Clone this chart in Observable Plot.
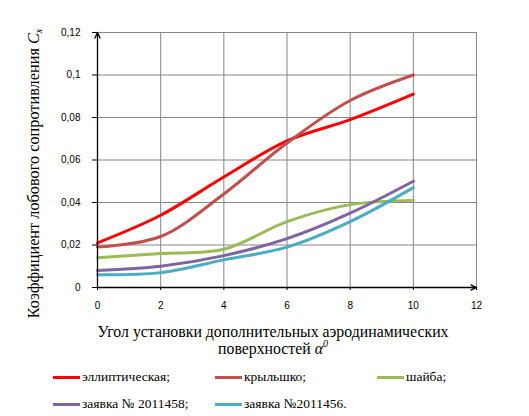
<!DOCTYPE html>
<html><head><meta charset="utf-8">
<script src="https://cdn.jsdelivr.net/npm/d3@7"></script>
<script src="https://cdn.jsdelivr.net/npm/@observablehq/plot@0.6"></script>
<style>
body{margin:0;background:#fff;}
#legend{position:relative;height:54px;font-family:"Liberation Serif",serif;font-size:13.5px;color:#000;}
.li{position:absolute;display:flex;align-items:center;}
.sw{width:27px;height:3px;margin-right:2px;}
</style></head>
<body>
<div id="chart"></div>
<div id="legend"></div>
<script>
const angles = [0, 2, 4, 6, 8, 10];
const seriesNames = ["эллиптическая;", "крыльшко;", "шайба;", "заявка № 2011458;", "заявка №2011456."];
const elliptic = [0.021, 0.034, 0.052, 0.069, 0.079, 0.091];
const wing     = [0.019, 0.024, 0.044, 0.068, 0.088, 0.100];
const washer   = [0.014, 0.016, 0.018, 0.031, 0.039, 0.041];
const app458   = [0.008, 0.010, 0.015, 0.023, 0.035, 0.050];
const app456   = [0.006, 0.007, 0.013, 0.019, 0.031, 0.047];
const colors = ["#FF0000", "#C0504D", "#9BBB59", "#8064A2", "#4BACC6"];
const xTicks = [0, 2, 4, 6, 8, 10, 12];
const yTicks = [0, 0.02, 0.04, 0.06, 0.08, 0.1, 0.12];

const allSeries = [elliptic, wing, washer, app458, app456];
const data = [];
allSeries.forEach((vals, i) => vals.forEach((v, j) => data.push({s: seriesNames[i], x: angles[j], y: v})));

const fmt = d => d === 0 ? "0" : String(+d.toFixed(2)).replace(".", ",");

const plot = Plot.plot({
  width: 529, height: 362,
  marginLeft: 97, marginRight: 53, marginTop: 32, marginBottom: 75,
  style: {fontFamily: "Liberation Sans, sans-serif", fontSize: "10px", color: "#000", background: "#fff"},
  x: {domain: [0, 12], label: null},
  y: {domain: [0, 0.12], label: null},
  color: {domain: seriesNames, range: colors},
  marks: [
    Plot.gridX(xTicks.filter(d => d > 0), {stroke: "#868686", strokeOpacity: 1, strokeWidth: 1}),
    Plot.gridY(yTicks.filter(d => d > 0), {stroke: "#868686", strokeOpacity: 1, strokeWidth: 1}),
    Plot.axisX({ticks: xTicks, tickFormat: d => String(d), tickSize: 3, tickPadding: 11, label: null, stroke: "#000"}),
    Plot.axisY({ticks: yTicks, tickFormat: fmt, tickSize: 5, tickPadding: 12, label: null, stroke: "#000"}),
    Plot.line(data, {x: "x", y: "y", z: "s", stroke: "s", strokeWidth: 3, curve: "catmull-rom"}),
    Plot.arrow([{x1: 0, y1: 0, x2: 0, y2: 0.12}], {x1: "x1", y1: "y1", x2: "x2", y2: "y2", stroke: "#000", strokeWidth: 1.3, headLength: 7, headAngle: 50}),
    Plot.arrow([{x1: 0, y1: 0, x2: 12, y2: 0}], {x1: "x1", y1: "y1", x2: "x2", y2: "y2", stroke: "#000", strokeWidth: 1.3, headLength: 7, headAngle: 50})
  ]
});
document.getElementById("chart").appendChild(plot);

const svg = d3.select(plot);
// y-axis title
const yt = svg.append("text")
  .attr("transform", "translate(38.5,173.5) rotate(-90)")
  .attr("text-anchor", "middle")
  .style("font-family", "Liberation Serif, serif")
  .style("font-size", "16.3px")
  .attr("fill", "#000");
yt.append("tspan").text("Коэффициент лобового сопротивления ");
yt.append("tspan").attr("font-style", "italic").text("C");
yt.append("tspan").attr("font-style", "italic").style("font-size", "10px").attr("dy", "3").text("x");

// x-axis title
svg.append("text")
  .attr("x", 273).attr("y", 336.5)
  .attr("text-anchor", "middle")
  .style("font-family", "Liberation Serif, serif")
  .style("font-size", "15.8px").attr("fill", "#000")
  .text("Угол установки дополнительных аэродинамических");
const xt2 = svg.append("text")
  .attr("x", 273).attr("y", 354)
  .attr("text-anchor", "middle")
  .style("font-family", "Liberation Serif, serif")
  .style("font-size", "15.8px").attr("fill", "#000");
xt2.append("tspan").text("поверхностей ");
xt2.append("tspan").attr("font-style", "italic").text("α");
xt2.append("tspan").attr("font-style", "italic").style("font-size", "10px").attr("dy", "-7").text("0");

// legend
const pos = [[53, 16], [215, 16], [377, 16], [53, 43], [215, 43]];
const leg = document.getElementById("legend");
seriesNames.forEach((n, i) => {
  const d = document.createElement("div");
  d.className = "li";
  d.style.left = pos[i][0] + "px";
  d.style.top = (pos[i][1] - 9) + "px";
  d.innerHTML = `<span class="sw" style="background:${colors[i]}"></span><span>${n}</span>`;
  leg.appendChild(d);
});
</script>
</body></html>
